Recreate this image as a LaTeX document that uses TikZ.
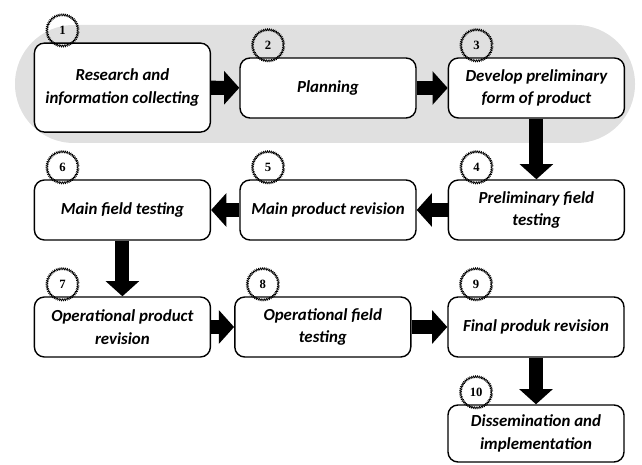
\documentclass[tikz,border=0pt]{standalone}
\usepackage{fontspec}
\setmainfont{Carlito}
\newfontfamily\numfont{Liberation Serif}
\usetikzlibrary{arrows.meta,decorations.pathmorphing}
\begin{document}
\begin{tikzpicture}[line cap=butt,line join=round,x=1cm,y=1cm,
	stepbox/.style={draw,line width=1pt,rounded corners=0.25cm,fill=white,minimum width=4.4cm,minimum height=1.5cm,align=center,font=\fontsize{12}{16}\selectfont\bfseries\itshape},
	badge/.style={draw,circle,line width=0.4pt,minimum size=0.78cm,inner sep=0pt,decorate,decoration={zigzag,segment length=1.3pt,amplitude=0.9pt},font=\numfont\fontsize{9}{9}\selectfont\bfseries},
	flow/.style={line width=10pt,-{Triangle[width=0.82cm,length=0.38cm]}}]
		\useasboundingbox (0,0) rectangle (16.05,11.6);
		% phase band
		\fill[gray!24,rounded corners=1.47cm] (0.375,8.025) rectangle (15.875,10.975);
		% steps
		\node[stepbox,minimum height=2.225cm] (b1) at (3.06,9.41) {Research and\\ information collecting};
		\node[stepbox] (b2) at (8.2,9.4) {Planning};
		\node[stepbox] (b3) at (13.41,9.4) {Develop preliminary\\ form of product};
		\node[stepbox] (b4) at (13.41,6.35) {Preliminary field\\ testing};
		\node[stepbox] (b5) at (8.2,6.35) {Main product revision};
		\node[stepbox] (b6) at (3.06,6.35) {Main field testing};
		\node[stepbox] (b7) at (3.06,3.425) {Operational product\\ revision};
		\node[stepbox] (b8) at (8.07,3.425) {Operational field\\ testing};
		\node[stepbox] (b9) at (13.4,3.425) {Final produk revision};
		\node[stepbox,minimum height=1.425cm] (b10) at (13.4,0.7625) {Dissemination and\\ implementation};
		% numbers
		\foreach \i in {1,...,10}
			\node[badge] (n\i) at ([shift={(0.72,0.3)}]b\i.north west) {\i};
		% arrows
		\foreach \s/\t in {b1/b2,b2/b3,b3/b4,b4/b5,b5/b6,b6/b7,b7/b8,b8/b9,b9/b10}
			\draw[flow] (\s) -- (\t);
	\end{tikzpicture}
\end{document}
